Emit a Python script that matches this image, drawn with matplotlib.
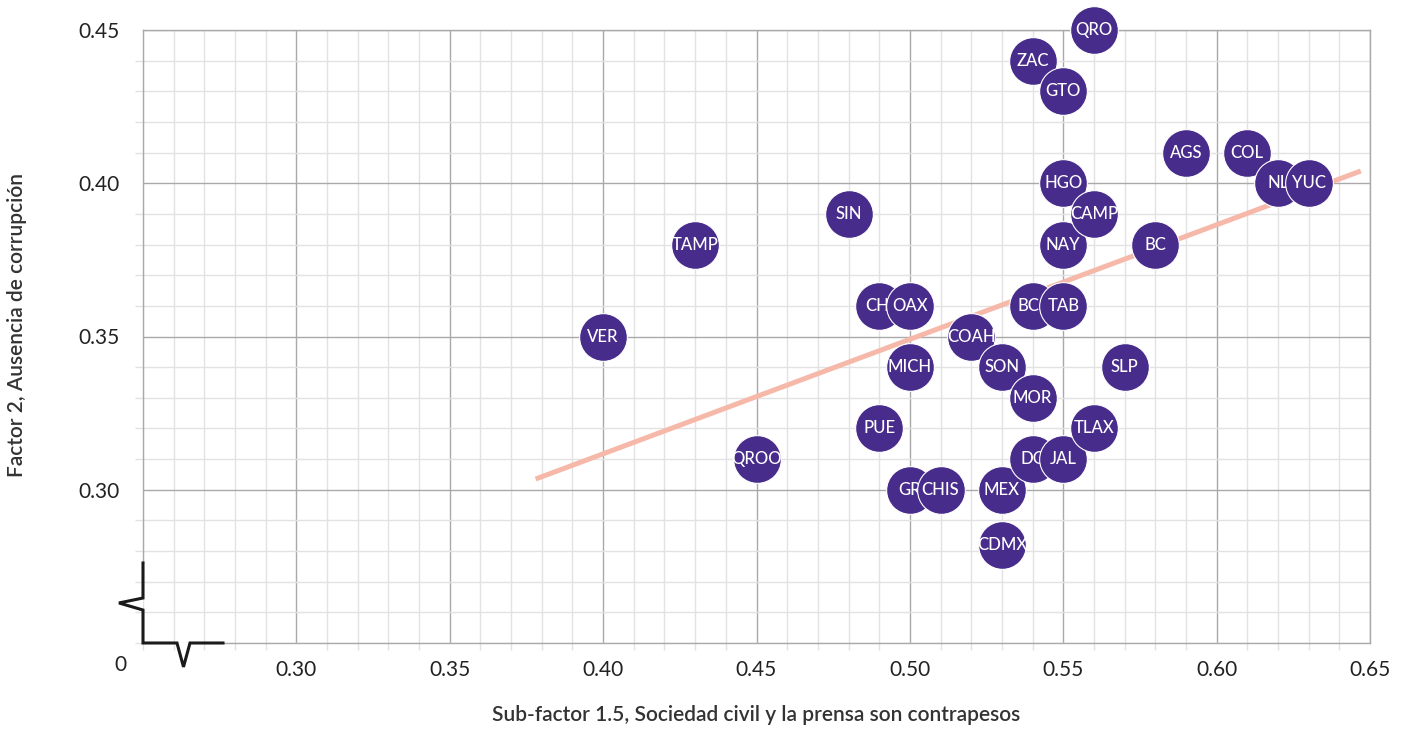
import numpy as np
import matplotlib.pyplot as plt
from matplotlib.ticker import MultipleLocator, FixedLocator

plt.rcParams['font.family'] = ['Lato', 'DejaVu Sans']

states = ["VER", "TAMP", "QROO", "SIN", "CHI", "PUE", "OAX", "MICH", "GRO", "CHIS",
          "COAH", "SON", "MEX", "CDMX", "ZAC", "BCS", "MOR", "DGO", "GTO", "HGO",
          "NAY", "TAB", "JAL", "QRO", "CAMP", "TLAX", "SLP", "BC", "AGS", "COL",
          "NL", "YUC"]
subfactor_15 = [0.40, 0.43, 0.45, 0.48, 0.49, 0.49, 0.50, 0.50, 0.50, 0.51,
                0.52, 0.53, 0.53, 0.53, 0.54, 0.54, 0.54, 0.54, 0.55, 0.55,
                0.55, 0.55, 0.55, 0.56, 0.56, 0.56, 0.57, 0.58, 0.59, 0.61,
                0.62, 0.63]
factor_2 = [0.35, 0.38, 0.31, 0.39, 0.36, 0.32, 0.36, 0.34, 0.30, 0.30,
            0.35, 0.34, 0.30, 0.282, 0.44, 0.36, 0.33, 0.31, 0.43, 0.40,
            0.38, 0.36, 0.31, 0.45, 0.39, 0.32, 0.34, 0.38, 0.41, 0.41,
            0.40, 0.40]
labels_shown = ["VER", "TAMP", "QROO", "SIN", "CHI", "PUE", "OAX", "MICH", "GR", "CHIS",
                "COAH", "SON", "MEX", "CDMX", "ZAC", "BCS", "MOR", "DG", "GTO", "HGO",
                "NAY", "TAB", "JAL", "QRO", "CAMP", "TLAX", "SLP", "BC", "AGS", "COL",
                "NL", "YUC"]

trend_x = [0.378, 0.647]
trend_y = [0.3035, 0.404]

xticks = [0.30, 0.35, 0.40, 0.45, 0.50, 0.55, 0.60, 0.65]
yticks = [0.30, 0.35, 0.40, 0.45]

purple = "#472c8b"
major_c = "#a9a9a9"
minor_c = "#e2e2e2"

fig = plt.figure(figsize=(14.12, 7.29), dpi=100)
ax = fig.add_axes([143/1412, 1 - 643/729, 1227/1412, 613/729])
ax.set_xlim(0.25, 0.65)
ax.set_ylim(0.25, 0.45)

ax.xaxis.set_major_locator(FixedLocator(xticks))
ax.yaxis.set_major_locator(FixedLocator(yticks))
ax.xaxis.set_minor_locator(MultipleLocator(0.01))
ax.yaxis.set_minor_locator(MultipleLocator(0.01))
ax.set_xticklabels([f"{v:.2f}" for v in xticks])
ax.set_yticklabels([f"{v:.2f}" for v in yticks])
ax.tick_params(which="major", length=0, labelsize=15, labelcolor="#222222")
ax.tick_params(axis="x", which="major", pad=12)
ax.tick_params(axis="y", which="major", pad=17)
ax.tick_params(which="minor", length=5, color=minor_c, width=1)
ax.tick_params(axis="y", which="minor", length=6)

ax.grid(which="minor", color=minor_c, lw=1, zorder=0)
ax.grid(which="major", color=major_c, lw=1, zorder=0.5)
ax.set_axisbelow(True)

for side in ["top", "right"]:
    ax.spines[side].set_color(major_c)
    ax.spines[side].set_linewidth(1)
ax.spines["left"].set_visible(False)
ax.spines["bottom"].set_visible(False)

# gray axis lines outside the break
ax.plot([0, 0], [0.1305, 1], transform=ax.transAxes, color=major_c, lw=1, clip_on=False, zorder=1)
ax.plot([0.0652, 1], [0, 0], transform=ax.transAxes, color=major_c, lw=1, clip_on=False, zorder=1)
# axis break marks
ax.plot([0, 0, -0.0196, 0, 0, 0.0277, 0.033, 0.0383, 0.0652],
        [0.1305, 0.0734, 0.0653, 0.0538, 0, 0, -0.039, 0, 0],
        transform=ax.transAxes, color="#1a1a1a", lw=2.2, clip_on=False,
        solid_joinstyle="miter", zorder=5)

ax.plot(trend_x, trend_y, color="#f6b8a8", lw=3.6, solid_capstyle="butt", zorder=2)

order = np.argsort(subfactor_15, kind="stable")
for rank, i in enumerate(order):
    z = 3 + rank * 0.01
    ax.scatter(subfactor_15[i], factor_2[i], s=1180, color=purple,
               edgecolors="white", linewidths=0.8, zorder=z, clip_on=False)
    ax.text(subfactor_15[i], factor_2[i], labels_shown[i], color="white",
            fontsize=12, fontweight="medium", ha="center", va="center",
            zorder=z + 0.005, clip_on=False)

fig.text(120/1412, 1 - 665/729, "0", fontsize=15, color="#222222",
         ha="center", va="center")
fig.text(756/1412, 1 - 715/729, "Sub-factor 1.5, Sociedad civil y la prensa son contrapesos",
         fontsize=15, fontweight="semibold", color="#333333", ha="center", va="center")
fig.text(17/1412, 1 - 325/729, "Factor 2, Ausencia de corrupción", rotation=90,
         fontsize=15, fontweight="semibold", color="#333333", ha="center", va="center")

fig.savefig("out.png", dpi=100)
